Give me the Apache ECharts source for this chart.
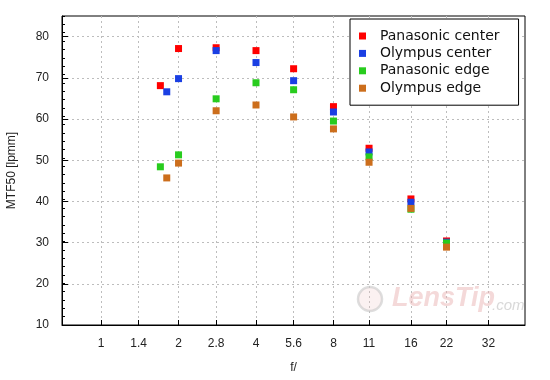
<!DOCTYPE html>
<html>
<head>
<meta charset="utf-8">
<script src="https://cdn.jsdelivr.net/npm/echarts@6/dist/echarts.min.js"></script>
<style>html,body{margin:0;padding:0;background:#fff;}#c{width:550px;height:380px;}</style>
</head>
<body>
<div id="c"></div>
<script>
const xTicks = [1, 1.4, 2, 2.8, 4, 5.6, 8, 11, 16, 22, 32];
const yTicks = [10, 20, 30, 40, 50, 60, 70, 80];
const fPanasonic = [1.7, 2, 2.8, 4, 5.6, 8, 11, 16, 22];
const fOlympus = [1.8, 2, 2.8, 4, 5.6, 8, 11, 16, 22];
const panasonicCenter = [68.1, 77.1, 77.3, 76.6, 72.2, 63.0, 52.9, 40.6, 30.4];
const olympusCenter = [66.6, 69.8, 76.6, 73.7, 69.3, 61.7, 52.0, 39.8, 30.1];
const panasonicEdge = [48.4, 51.3, 64.9, 68.8, 67.1, 59.5, 50.8, 38.1, 29.9];
const olympusEdge = [45.7, 49.3, 62.0, 63.4, 60.5, 57.6, 49.5, 38.3, 28.9];

const names = ['Panasonic center', 'Olympus center', 'Panasonic edge', 'Olympus edge'];
const colors = ['#ff0000', '#1a3fe3', '#28cc1e', '#cc6e1c'];
const xs = [fPanasonic, fOlympus, fPanasonic, fOlympus];
const ys = [panasonicCenter, olympusCenter, panasonicEdge, olympusEdge];

const labelFont = 'Liberation Sans, Arial, sans-serif';
const splitStyle = { show: true, lineStyle: { color: '#bdbdbd', type: [2, 3], width: 1 } };

const chart = echarts.init(document.getElementById('c'), null, { renderer: 'canvas' });
chart.setOption({
  animation: false,
  backgroundColor: '#fff',
  grid: { left: 62, top: 16, right: 25, bottom: 55, containLabel: false, outerBoundsMode: 'none',
    show: true, borderColor: '#000', borderWidth: 1, backgroundColor: 'transparent' },
  xAxis: {
    type: 'log', logBase: 2, min: 0.705, max: 44.4,
    name: 'f/', nameLocation: 'middle', nameGap: 37,
    nameTextStyle: { fontFamily: labelFont, fontSize: 12, color: '#222' },
    axisLine: { show: true, lineStyle: { color: '#000', width: 1 } },
    axisTick: { show: true, inside: true, length: 5, customValues: xTicks, lineStyle: { color: '#000' } },
    axisLabel: { customValues: xTicks, margin: 13, fontFamily: labelFont, fontSize: 12, color: '#222',
      formatter: v => String(Math.round(v * 10) / 10) },
    splitLine: splitStyle,
    minorTick: { show: false }, minorSplitLine: { show: false }
  },
  yAxis: [{
    type: 'value', min: 10, max: 85, interval: 10,
    name: 'MTF50 [lpmm]', nameLocation: 'middle', nameGap: 44,
    nameTextStyle: { fontFamily: labelFont, fontSize: 12, color: '#222' },
    axisLine: { show: true, lineStyle: { color: '#000', width: 1 } },
    axisTick: { show: true, inside: true, length: 6, customValues: yTicks, lineStyle: { color: '#000' } },
    axisLabel: { customValues: yTicks, margin: 13, fontFamily: labelFont, fontSize: 12, color: '#222' },
    splitLine: splitStyle
  }, {
    type: 'value', min: 10, max: 84, interval: 2, position: 'left', offset: 0,
    axisLine: { show: false },
    axisTick: { show: true, inside: true, length: 3, lineStyle: { color: '#000' } },
    axisLabel: { show: false },
    splitLine: { show: false }
  }],
  legend: {
    orient: 'vertical', left: 350, top: 19,
    data: names,
    icon: 'rect', itemWidth: 7, itemHeight: 7, itemGap: 3.4,
    formatter: n => '  ' + n,
    padding: [10, 19, 10, 9],
    borderColor: '#000', borderWidth: 1, backgroundColor: '#fff',
    textStyle: { fontFamily: 'DejaVu Sans', fontSize: 14, color: '#111', lineHeight: 14 }
  },
  graphic: [
    { type: 'circle', shape: { cx: 370, cy: 299, r: 12 }, style: { fill: 'rgba(240,200,200,0.25)', stroke: 'rgba(200,200,200,0.6)', lineWidth: 2.5 }, z: 1, silent: true },
    { type: 'text', x: 392, y: 299, style: { text: 'LensTip', font: 'italic bold 27px Liberation Sans', fill: 'rgba(230,170,170,0.45)', verticalAlign: 'middle' }, z: 1, silent: true },
    { type: 'text', x: 492, y: 313, style: { text: '.com', font: 'italic 15px Liberation Sans', fill: 'rgba(190,190,190,0.6)', verticalAlign: 'bottom' }, z: 1, silent: true }
  ],
  series: names.map((n, i) => ({
    name: n, type: 'scatter', symbol: 'rect', symbolSize: 7,
    itemStyle: { color: colors[i], opacity: 1 },
    z: 3 + i,
    data: xs[i].map((x, j) => [x, ys[i][j]])
  }))
});
</script>
</body>
</html>
